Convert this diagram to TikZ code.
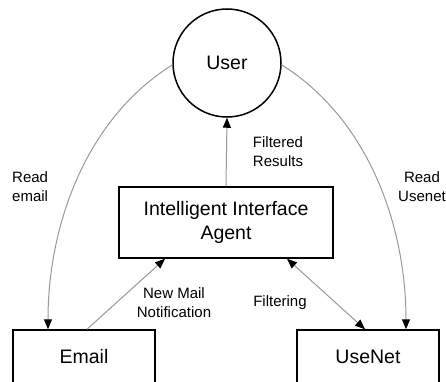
\documentclass[tikz,border=0pt]{standalone}
\usepackage{fontspec}
\setmainfont{Liberation Sans}
\usetikzlibrary{arrows.meta}
\definecolor{linkgray}{RGB}{160,150,145}

\begin{document}
\begin{tikzpicture}[x=1pt,y=1pt,
    box/.style={draw,line width=1.5pt,inner sep=0pt,font=\fontsize{19.5}{24}\selectfont,align=center},
    lbl/.style={font=\fontsize{15}{19}\selectfont,align=center,inner sep=0pt},
    link/.style={linkgray,line width=1pt,>={Triangle[length=10pt,width=8pt,black]}}]
    \clip (0,0) rectangle (446,381);

    % Nodes
    \node[box,circle,minimum size=108pt] (user) at (227,318) {User};
    \node[box,minimum width=214pt,minimum height=71pt] (agent) at (226,158.5) {Intelligent Interface\\Agent};
    \node[box,minimum width=142pt,minimum height=54pt] (email) at (84,24) {Email};
    \node[box,minimum width=142pt,minimum height=54pt] (usenet) at (368,24) {UseNet};

    % Reading paths
    \draw[link,->] (user.182) to[out=212,in=90,looseness=0.9] ([xshift=-36pt]email.north);
    \draw[link,->] (user.-2) to[out=-32,in=90,looseness=0.9] ([xshift=38pt]usenet.north);
    \node[lbl,anchor=west,align=left] (reademail) at (12,194) {Read\\email};
    \node[lbl] (readusenet) at (422,194) {Read\\Usenet};

    % Agent links
    \draw[link,->] (agent.north) -- (user.south);
    \node[lbl] (filtered) at (278,229.5) {Filtered\\Results};
    \draw[link,->] ([xshift=3pt]email.north) -- ([xshift=-61pt]agent.south);
    \node[lbl] (newmail) at (174,78.5) {New Mail\\Notification};
    \draw[link,<->] ([xshift=61pt]agent.south) -- ([xshift=-3pt]usenet.north);
    \node[lbl] (filtering) at (280,78) {Filtering};
\end{tikzpicture}
\end{document}
